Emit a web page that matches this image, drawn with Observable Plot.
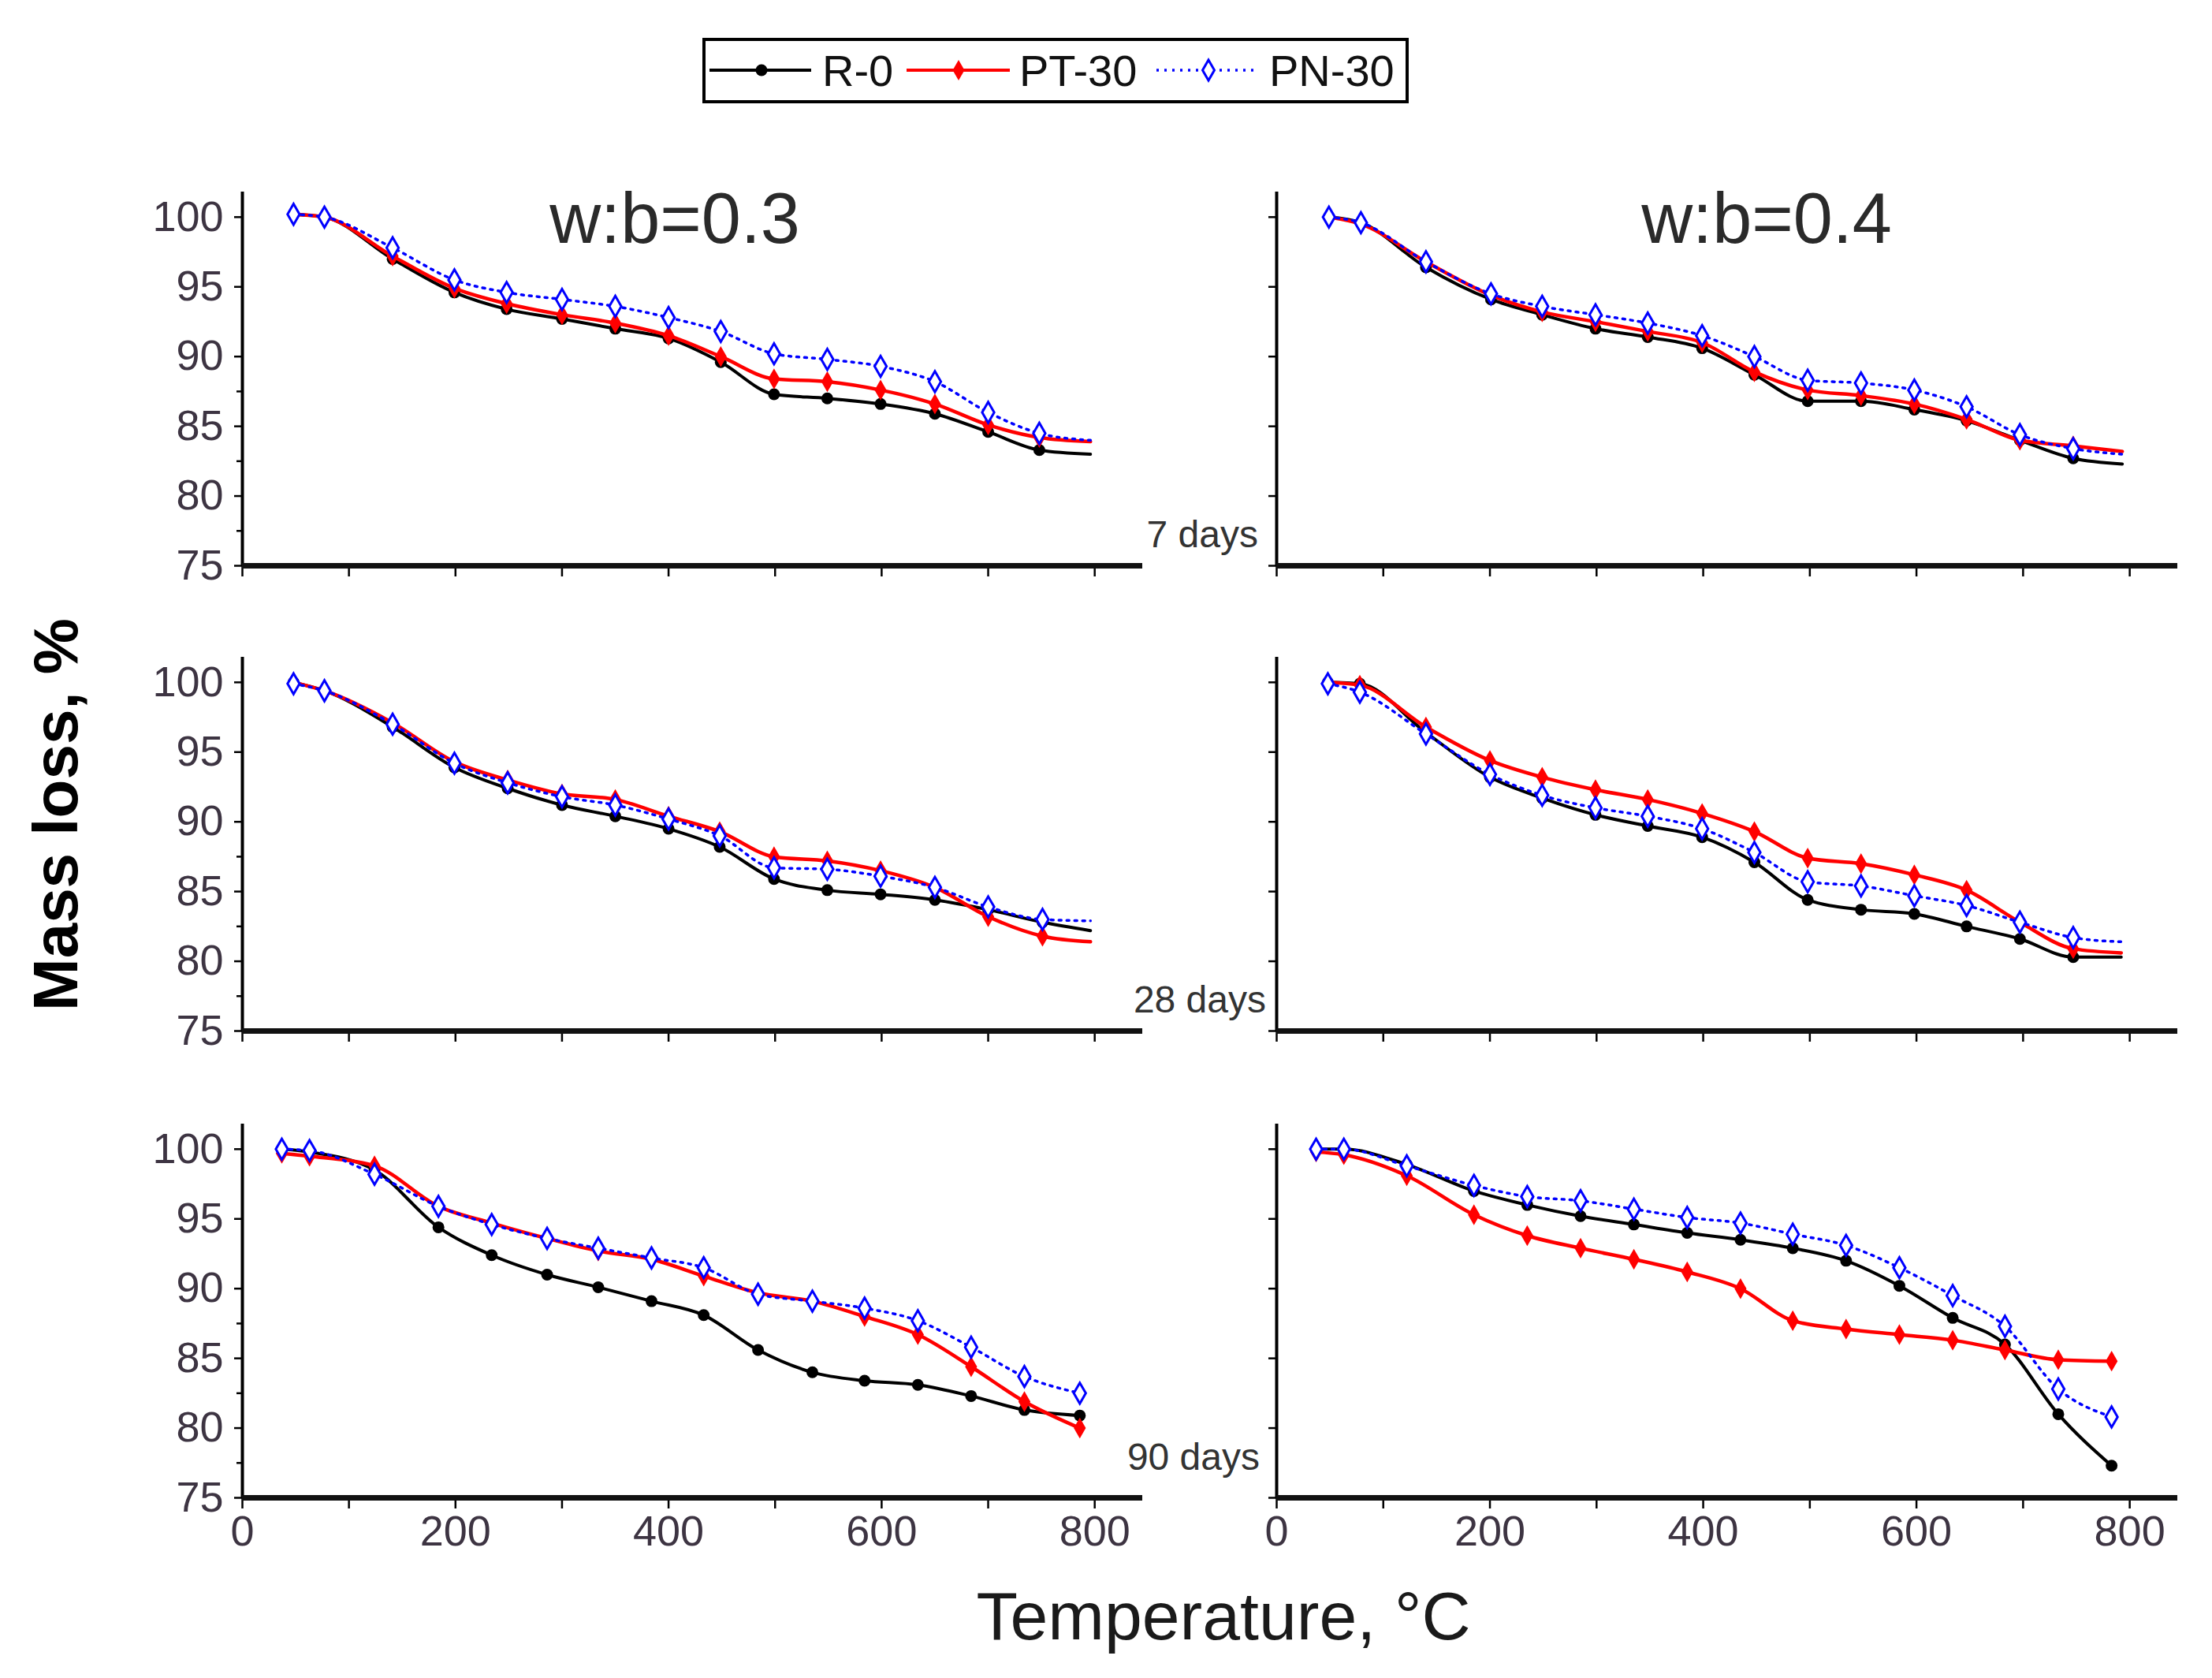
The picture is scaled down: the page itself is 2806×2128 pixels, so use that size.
<!DOCTYPE html>
<html><head><meta charset="utf-8">
<script src="https://cdn.jsdelivr.net/npm/d3@7"></script>
<script src="https://cdn.jsdelivr.net/npm/@observablehq/plot@0.6"></script>
<style>
html,body{margin:0;padding:0;background:#fff;}
#page{position:relative;width:2806px;height:2128px;background:#fff;font-family:"Liberation Sans",Arial,sans-serif;overflow:hidden;}
.panel{position:absolute;}
#overlay{position:absolute;left:0;top:0;}
</style></head><body><div id="page"></div>
<script>
const seriesNames = ["R-0", "PT-30", "PN-30"];
const seriesColors = ["#000000", "#ff0000", "#0000ff"];
const ratioTitles = ["w:b=0.3", "w:b=0.4"];
const ageLabels = ["7 days", "28 days", "90 days"];
const xTicks = [0, 100, 200, 300, 400, 500, 600, 700, 800];
const yTicks = [75, 80, 85, 90, 95, 100];

// 7 days, w:b=0.3
const t_03_7  = [48, 77, 141, 199, 248, 300, 350, 400, 449, 499, 549, 599, 650, 700, 748, 796];
const r0_03_7 = [100.2, 100.0, 97.0, 94.6, 93.4, 92.7, 92.0, 91.3, 89.6, 87.3, 87.0, 86.6, 85.9, 84.6, 83.3, 83.0];
const pt_03_7 = [100.2, 100.0, 97.2, 94.9, 93.8, 93.0, 92.4, 91.5, 90.0, 88.4, 88.2, 87.6, 86.6, 85.1, 84.2, 83.9];
const pn_03_7 = [100.2, 100.0, 97.8, 95.5, 94.6, 94.1, 93.6, 92.8, 91.8, 90.2, 89.8, 89.3, 88.2, 86.0, 84.5, 84.0];
// 7 days, w:b=0.4
const t_04_7  = [49, 79, 140, 201, 249, 299, 348, 399, 448, 498, 548, 598, 647, 697, 747, 793];
const r0_04_7 = [100.0, 99.6, 96.4, 94.1, 93.0, 92.0, 91.4, 90.6, 88.7, 86.8, 86.8, 86.2, 85.4, 84.0, 82.7, 82.3];
const pt_04_7 = [100.0, 99.5, 96.8, 94.4, 93.2, 92.5, 91.8, 91.0, 88.9, 87.6, 87.2, 86.6, 85.5, 84.0, 83.6, 83.2];
const pn_04_7 = [100.0, 99.6, 96.8, 94.5, 93.6, 93.0, 92.4, 91.5, 90.0, 88.3, 88.1, 87.6, 86.4, 84.4, 83.4, 83.0];
// 28 days, w:b=0.3
const t_03_28  = [48, 77, 141, 199, 249, 300, 350, 400, 448, 499, 549, 599, 650, 700, 751, 796];
const r0_03_28 = [100.0, 99.4, 96.8, 93.9, 92.4, 91.2, 90.4, 89.5, 88.2, 85.9, 85.1, 84.8, 84.4, 83.7, 82.8, 82.2];
const pt_03_28 = [100.0, 99.4, 97.1, 94.3, 93.0, 92.0, 91.6, 90.4, 89.3, 87.5, 87.2, 86.5, 85.3, 83.2, 81.8, 81.4];
const pn_03_28 = [99.9, 99.4, 97.0, 94.2, 92.8, 91.8, 91.2, 90.2, 89.0, 86.7, 86.6, 86.1, 85.3, 83.9, 83.0, 82.9];
// 28 days, w:b=0.4
const t_04_28  = [48, 78, 140, 200, 249, 299, 348, 399, 448, 498, 548, 598, 647, 697, 747, 792];
const r0_04_28 = [100.0, 99.9, 96.4, 93.2, 91.7, 90.5, 89.7, 88.9, 87.1, 84.4, 83.7, 83.4, 82.5, 81.6, 80.3, 80.3];
const pt_04_28 = [100.0, 99.8, 96.8, 94.4, 93.2, 92.3, 91.6, 90.6, 89.3, 87.4, 87.0, 86.2, 85.1, 82.8, 80.9, 80.6];
const pn_04_28 = [99.9, 99.3, 96.3, 93.4, 91.9, 91.0, 90.4, 89.5, 87.8, 85.7, 85.4, 84.7, 84.0, 82.8, 81.7, 81.4];
// 90 days, w:b=0.3
const t_03_90  = [37, 63, 124, 184, 234, 286, 334, 384, 433, 484, 535, 584, 634, 684, 734, 786];
const r0_03_90 = [100.0, 99.8, 98.5, 94.4, 92.4, 91.0, 90.1, 89.1, 88.1, 85.6, 84.0, 83.4, 83.1, 82.3, 81.3, 80.9];
const pt_03_90 = [99.7, 99.5, 98.8, 95.9, 94.7, 93.6, 92.7, 92.1, 90.9, 89.7, 89.1, 88.0, 86.7, 84.4, 81.9, 80.0];
const pn_03_90 = [100.0, 99.9, 98.2, 95.9, 94.6, 93.6, 92.9, 92.2, 91.5, 89.6, 89.1, 88.6, 87.7, 85.8, 83.7, 82.5];
// 90 days, w:b=0.4
const t_04_90  = [37, 63, 122, 185, 235, 285, 335, 385, 435, 484, 534, 584, 634, 683, 733, 783];
const r0_04_90 = [100.0, 100.0, 98.9, 97.0, 96.0, 95.2, 94.6, 94.0, 93.5, 92.9, 92.0, 90.2, 87.9, 86.0, 81.0, 77.3];
const pt_04_90 = [99.8, 99.6, 98.1, 95.3, 93.8, 92.9, 92.1, 91.2, 90.0, 87.7, 87.1, 86.7, 86.3, 85.6, 84.9, 84.8];
const pn_04_90 = [100.0, 100.0, 98.8, 97.4, 96.6, 96.3, 95.7, 95.1, 94.7, 93.9, 93.1, 91.5, 89.5, 87.3, 82.8, 80.8];

const panels = [
  {row: 0, col: 0, t: t_03_7,  vals: [r0_03_7,  pt_03_7,  pn_03_7]},
  {row: 0, col: 1, t: t_04_7,  vals: [r0_04_7,  pt_04_7,  pn_04_7]},
  {row: 1, col: 0, t: t_03_28, vals: [r0_03_28, pt_03_28, pn_03_28]},
  {row: 1, col: 1, t: t_04_28, vals: [r0_04_28, pt_04_28, pn_04_28]},
  {row: 2, col: 0, t: t_03_90, vals: [r0_03_90, pt_03_90, pn_03_90]},
  {row: 2, col: 1, t: t_04_90, vals: [r0_04_90, pt_04_90, pn_04_90]}
];

const page = document.getElementById("page");
const rowTops = [223, 813, 1405];
const colGeom = [
  {left: 0, width: 1460, marginLeft: 307, marginRight: 11},
  {left: 1470, width: 1336, marginLeft: 149, marginRight: 44}
];
const labelColor = "#3d3442";
const blueDash = "3 7";

panels.forEach(p => {
  const rows = [];
  seriesNames.forEach((s, si) => {
    p.t.forEach((t, i) => rows.push({series: s, t, v: p.vals[si][i]}));
  });
  const bySeries = s => rows.filter(d => d.series === s);
  const markers = s => rows.filter(d => d.series === s && d.t <= 790);
  const g = colGeom[p.col];
  const showY = p.col === 0;
  const showX = p.row === 2;
  const marks = [
    Plot.axisY({ticks: yTicks, tickSize: 10, tickPadding: 14, fontSize: 54, stroke: "#000", strokeWidth: 2.5,
      fill: labelColor, label: null, tickFormat: d => showY ? String(d) : ""}),
    Plot.axisX({ticks: xTicks, tickSize: 14, tickPadding: 8, fontSize: 54, stroke: "#000", strokeWidth: 2.5,
      fill: labelColor, label: null, tickFormat: d => (showX && d % 200 === 0) ? String(d) : ""}),
    Plot.ruleX([0], {stroke: "#000", strokeWidth: 4}),
    Plot.ruleY([75], {stroke: "#111", strokeWidth: 7}),
    Plot.line(bySeries("R-0"), {x: "t", y: "v", stroke: seriesColors[0], strokeWidth: 4, curve: "monotone-x"}),
    Plot.dot(markers("R-0"), {x: "t", y: "v", fill: seriesColors[0], r: 7.5, symbol: "circle"}),
    Plot.line(bySeries("PT-30"), {x: "t", y: "v", stroke: seriesColors[1], strokeWidth: 4.5, curve: "monotone-x"}),
    Plot.dot(markers("PT-30"), {x: "t", y: "v", fill: seriesColors[1], r: 8, symbol: "diamond"}),
    Plot.line(bySeries("PN-30"), {x: "t", y: "v", stroke: seriesColors[2], strokeWidth: 3.5, strokeDasharray: blueDash, curve: "monotone-x"}),
    Plot.dot(markers("PN-30"), {x: "t", y: "v", fill: "#fff", stroke: seriesColors[2], strokeWidth: 3, r: 8, symbol: "diamond"})
  ];
  if (showY) {
    marks.unshift(Plot.axisY({ticks: [77.5, 82.5, 87.5], tickSize: 7, stroke: "#000", strokeWidth: 2.5, label: null, tickFormat: () => ""}));
  }
  const chart = Plot.plot({
    width: g.width,
    height: 584,
    marginLeft: g.marginLeft,
    marginRight: g.marginRight,
    marginTop: 20,
    marginBottom: 90,
    x: {domain: [0, 845]},
    y: {domain: [75, 101.8]},
    style: {fontFamily: '"Liberation Sans", Arial, sans-serif', background: "transparent", overflow: "visible"},
    marks
  });
  chart.classList.add("panel");
  chart.style.left = g.left + "px";
  chart.style.top = rowTops[p.row] + "px";
  page.appendChild(chart);
});

// Overlay: titles, legend, axis titles
const ns = "http://www.w3.org/2000/svg";
const ov = document.createElementNS(ns, "svg");
ov.setAttribute("id", "overlay");
ov.setAttribute("width", 2806);
ov.setAttribute("height", 2128);
page.appendChild(ov);
function txt(s, x, y, size, anchor, fill, extra) {
  const e = document.createElementNS(ns, "text");
  e.textContent = s;
  e.setAttribute("x", x); e.setAttribute("y", y);
  e.setAttribute("font-size", size);
  e.setAttribute("text-anchor", anchor);
  e.setAttribute("fill", fill);
  e.setAttribute("font-family", '"Liberation Sans", Arial, sans-serif');
  if (extra) for (const k in extra) e.setAttribute(k, extra[k]);
  ov.appendChild(e);
  return e;
}
function el(tag, attrs) {
  const e = document.createElementNS(ns, tag);
  for (const k in attrs) e.setAttribute(k, attrs[k]);
  ov.appendChild(e);
  return e;
}
txt(ratioTitles[0], 856, 308, 90, "middle", "#2a2a2a");
txt(ratioTitles[1], 2241, 308, 90, "middle", "#2a2a2a");
txt(ageLabels[0], 1596, 694, 48, "end", "#333");
txt(ageLabels[1], 1606, 1284, 48, "end", "#333");
txt(ageLabels[2], 1598, 1864, 48, "end", "#333");
txt("Mass loss, %", 0, 0, 80, "middle", "#000", {transform: "translate(98,1033) rotate(-90)", "font-weight": "bold"});
txt("Temperature, \u00B0C", 1552, 2079, 86, "middle", "#1a1a1a");

// Legend
el("rect", {x: 893, y: 50, width: 892, height: 79, fill: "#fff", stroke: "#000", "stroke-width": 4});
const ly = 89;
const legendItems = [
  {x1: 900, x2: 1029, mx: 966, tx: 1043},
  {x1: 1150, x2: 1281, mx: 1216, tx: 1293},
  {x1: 1467, x2: 1596, mx: 1533, tx: 1610}
];
legendItems.forEach((it, i) => {
  el("line", {x1: it.x1, x2: it.x2, y1: ly, y2: ly, stroke: seriesColors[i], "stroke-width": i === 2 ? 3.5 : 4,
    "stroke-dasharray": i === 2 ? blueDash : "none"});
  if (i === 0) el("circle", {cx: it.mx, cy: ly, r: 7.5, fill: "#000"});
  else el("path", {d: `M${it.mx},${ly - 13}L${it.mx + 7.5},${ly}L${it.mx},${ly + 13}L${it.mx - 7.5},${ly}Z`,
    fill: i === 1 ? "#ff0000" : "#fff", stroke: i === 1 ? "none" : "#0000ff", "stroke-width": 3});
  txt(seriesNames[i], it.tx, ly + 20, 56, "start", "#111");
});
</script></body></html>
